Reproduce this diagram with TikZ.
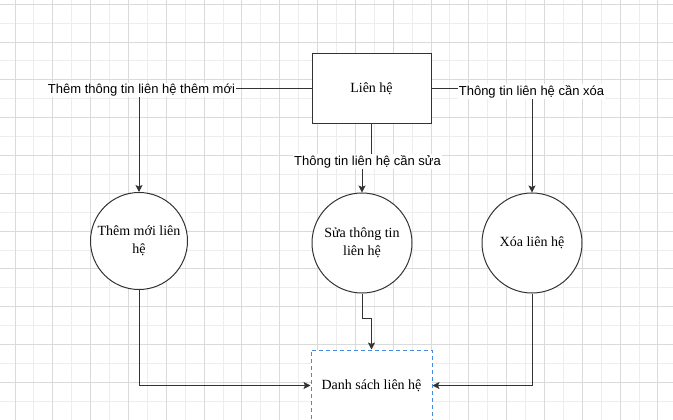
\documentclass[tikz,border=0pt]{standalone}
\usepackage{fontspec}
\setmainfont{Liberation Serif}
\newfontfamily\arialf{Liberation Sans}
\usetikzlibrary{arrows.meta}
\pgfdeclarelayer{gridlayer}
\pgfdeclarelayer{edgelayer}
\pgfsetlayers{gridlayer,edgelayer,main}
\definecolor{linec}{HTML}{333333}
\definecolor{gridmaj}{HTML}{DADADA}
\definecolor{gridmin}{HTML}{EDEDED}
\definecolor{dashblue}{HTML}{4A8ADA}
\tikzset{
  proc/.style={draw=linec, line width=1pt, fill=white, font=\fontsize{14}{18.5}\selectfont, align=center},
  boxnode/.style={proc, rectangle, minimum width=119pt, minimum height=70pt},
  circnode/.style={proc, circle, minimum size=100pt, inner sep=0pt},
  store/.style={rectangle, draw=dashblue, dash pattern=on 4pt off 3pt, line width=1pt, fill=white,
    minimum width=121pt, minimum height=71pt, font=\fontsize{14}{18.5}\selectfont},
  flowlabel/.style={fill=white, inner sep=1pt, font=\arialf\fontsize{13}{15}\selectfont},
  flow/.style={draw=linec, line width=1pt, -{Stealth[length=7pt,width=7pt,inset=1.5pt]}},
}
\begin{document}
\begin{tikzpicture}[x=1pt,y=-1pt]
\useasboundingbox (0,0) rectangle (673,420);
\begin{pgfonlayer}{gridlayer}
  \fill[white] (0,0) rectangle (673,420);
  \foreach \k in {1,3,...,33} {
    \pgfmathsetmacro{\xx}{15+18.91*\k}
    \draw[gridmin, line width=1pt] (\xx,0) -- (\xx,420);
  }
  \foreach \k in {1,3,...,21} {
    \pgfmathsetmacro{\yy}{4.2+18.91*\k}
    \draw[gridmin, line width=1pt] (0,\yy) -- (673,\yy);
  }
  \foreach \k in {0,2,...,34} {
    \pgfmathsetmacro{\xx}{15+18.91*\k}
    \draw[gridmaj, line width=1pt] (\xx,0) -- (\xx,420);
  }
  \foreach \k in {0,2,...,20} {
    \pgfmathsetmacro{\yy}{4.2+18.91*\k}
    \draw[gridmaj, line width=1pt] (0,\yy) -- (673,\yy);
  }
\end{pgfonlayer}

\node[boxnode] (lh) at (371.5,89) {Liên hệ};
\node[circnode, minimum size=97pt] (c1) at (139,241) {\parbox{92pt}{\centering Thêm mới liên\\hệ}};
\node[circnode] (c2) at (362,243) {\raisebox{7pt}{\parbox{92pt}{\centering Sửa thông tin\\liên hệ}}};
\node[circnode] (c3) at (532,243) {Xóa liên hệ};
\node[store] (ds) at (371.5,385.5) {Danh sách liên hệ};

\node[flowlabel] (l1) at (141.5,90) {Thêm thông tin liên hệ thêm mới};
\node[flowlabel] (l2) at (367.5,161.5) {Thông tin liên hệ cần sửa};
\node[flowlabel] (l3) at (531.5,91.5) {Thông tin liên hệ cần xóa};

\begin{pgfonlayer}{edgelayer}
  \draw[flow] (lh.west) -| (c1.north);
  \draw[flow] (lh.east) -| (c3.north);
  \draw[flow] (lh.south) |- (l2.center) -| (c2.north);
  \draw[flow] (c1.south) |- (ds.west);
  \draw[flow] (c3.south) |- (ds.east);
  \draw[flow] (c2.south) -- ++(0,25) -| (ds.north);
\end{pgfonlayer}
\end{tikzpicture}
\end{document}
